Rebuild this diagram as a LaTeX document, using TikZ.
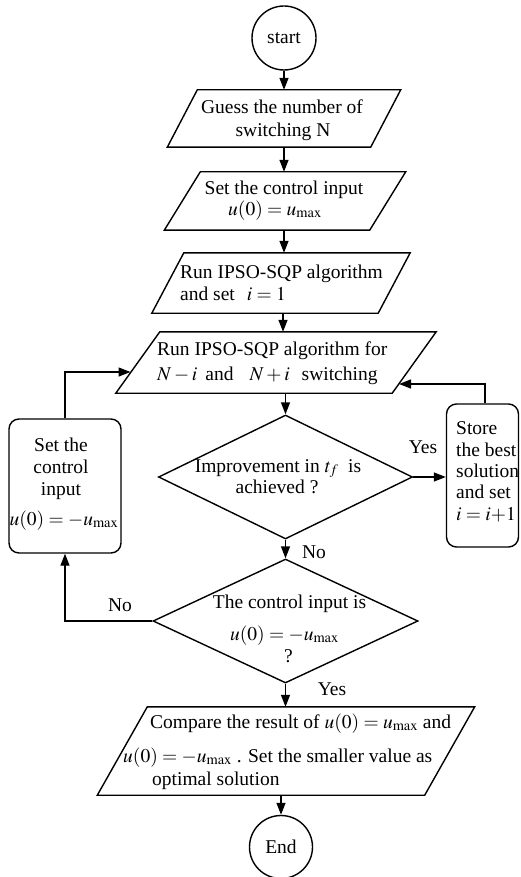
\documentclass[tikz,border=0pt]{standalone}
\usepackage{mathptmx}
\usepackage[no-math]{fontspec}
\setmainfont{Liberation Serif}
\usetikzlibrary{shapes.geometric,arrows.meta}
\tikzset{
  ln/.style={line width=1.4pt, line join=miter},
  arr/.style={ln, -{Triangle[length=12pt,width=9pt]}},
  txt/.style={font=\fontsize{19.5}{23}\selectfont, inner sep=0pt, anchor=base},
  txtl/.style={txt, anchor=base west},
  hold/.style={draw=none, inner sep=0pt},
  term/.style={circle, draw, ln, inner sep=0pt},
  rbox/.style={draw, ln, rounded corners=10pt, inner sep=0pt},
  dec/.style={diamond, draw, ln, inner sep=0pt},
}
\newcommand\mkpara[6]{%
  \node[hold, minimum width=#4pt, minimum height=#5pt] (#1) at (#2,#3) {};
  \draw[ln] ([xshift=-#6pt/2]#1.south west) -- ([xshift=#6pt/2]#1.north west)
    -- ([xshift=#6pt/2]#1.north east) -- ([xshift=-#6pt/2]#1.south east) -- cycle;}
\begin{document}
\begin{tikzpicture}[x=1pt,y=-1pt]
\useasboundingbox (0,0) rectangle (520,877);

% terminals
\node[term, minimum size=64pt] (start) at (284,38) {};
\node[txt] (startt) at (284,44) {start};
\node[term, minimum size=63pt] (end) at (281,847) {};
\node[txt] (endt) at (281,853) {End};

% parallelograms
\mkpara{p1}{284}{118.5}{203}{57}{30}
\node[txt] (p1a) at (282,114) {Guess the number of};
\node[txt] (p1b) at (283,137) {switching N};

\mkpara{p2}{285}{201}{205}{58}{36}
\node[txt] (p2a) at (284,195) {Set the control input};
\node[txt] (p2b) at (275,215) {$u(0)=u_{\max}$};

\mkpara{p3}{281}{283}{226}{60}{32}
\node[txtl] (p3a) at (180,278) {Run IPSO-SQP algorithm};
\node[txtl] (p3b) at (180,300) {and set\hspace{12pt}$i=1$};

\mkpara{p4}{276}{362.5}{276}{61}{44}
\node[txtl] (p4a) at (157,355) {Run IPSO-SQP algorithm for};
\node[txtl] (p4b) at (157,380) {$N-i$\hspace{8pt}and\hspace{16pt}$N+i$\hspace{12pt}switching};
\coordinate (p4l) at (130.5,372);
\coordinate (p4r) at (399,384);

\mkpara{p5}{286}{751}{327}{88}{50}
\node[txtl] (p5a) at (150,728) {Compare the result of $u(0)=u_{\max}$ and};
\node[txtl] (p5b) at (123,762) {$u(0)=-u_{\max}$ . Set the smaller value as};
\node[txtl] (p5c) at (152,785) {optimal solution};

% decisions
\node[dec, minimum width=254pt, minimum height=124pt] (d1) at (285.5,477) {};
\node[txt] (d1a) at (278,472) {Improvement in $t_f$\ \ is};
\node[txt] (d1b) at (277,493) {achieved ?};

\node[dec, minimum width=265pt, minimum height=124pt] (d2) at (285.5,621) {};
\node[txt] (d2a) at (289.5,608) {The control input is};
\node[txt] (d2b) at (284.5,640) {$u(0)=-u_{\max}$};
\node[txt] (d2c) at (288.5,662) {?};

% side boxes
\node[rbox, minimum width=72pt, minimum height=143pt] (store) at (482.5,475.5) {};
\node[txtl] (sa) at (456,434) {Store};
\node[txtl] (sb) at (456,456) {the best};
\node[txtl] (sc) at (456,477) {solution};
\node[txtl] (sd) at (456,498) {and set};
\node[txtl] (se) at (456,520) {$i=i{+}1$};

\node[rbox, minimum width=112pt, minimum height=134pt] (lbox) at (65,486) {};
\node[txt] (la) at (61,451) {Set the};
\node[txt] (lb) at (61,473) {control};
\node[txt] (lc) at (61,495) {input};
\node[txt] (ld) at (64,525) {$u(0)=-u_{\max}$};

% connectors
\draw[arr] (start.south) -- (start.south |- p1.north);
\draw[arr] (p1.south) -- (p1.south |- p2.north);
\draw[arr] ([xshift=-1pt]p2.south) -- ([xshift=-1pt]p2.south |- p3.north);
\draw[arr] ([xshift=2pt]p3.south) -- ([xshift=2pt]p3.south |- p4.north);
\draw[arr] (d1.north |- p4.south) -- (d1.north);
\draw[arr] (d1.south) -- (d1.south |- d2.north);
\draw[arr] (d2.south) -- (d2.south |- p5.north);
\draw[arr] (end.north |- p5.south) -- (end.north);
\draw[arr] (d1.east) -- (d1.east -| store.west);
\draw[arr] ([xshift=2.5pt]store.north) |- (p4r);
\draw[arr] (d2.west) -| (lbox.south);
\draw[arr] (lbox.north) |- (p4l);

% branch labels
\node[txt] (yes1) at (423,453) {Yes};
\node[txt] (no1) at (314,558) {No};
\node[txt] (no2) at (120,611) {No};
\node[txt] (yes2) at (332,695) {Yes};
\end{tikzpicture}
\end{document}
